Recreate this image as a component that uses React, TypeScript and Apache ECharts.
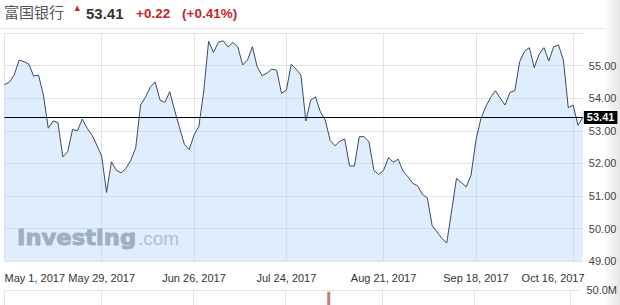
import React, { useEffect, useRef } from 'react';
import * as echarts from 'echarts';

// ---- data ----
const startDate = '2017-05-01';
const endDate = '2017-10-18';
const marketHolidays = ['2017-05-29', '2017-07-04', '2017-09-04'];

const prices = [
  54.42, 54.49, 54.71, 55.17, 55.12, 55.05, 54.68, 54.71, 54.10, 53.08,
  53.30, 53.25, 52.20, 52.36, 53.04, 53.00, 53.36, 53.08, 52.87, 52.56,
  52.22, 51.11, 52.05, 51.79, 51.71, 51.85, 52.10, 52.48, 53.79, 54.03,
  54.34, 54.50, 53.94, 53.87, 54.20, 53.63, 53.11, 52.59, 52.42, 52.87,
  53.14, 54.22, 55.75, 55.40, 55.72, 55.76, 55.57, 55.71, 55.58, 55.02,
  55.17, 55.58, 54.96, 54.69, 54.77, 54.89, 54.86, 54.15, 54.25, 55.04,
  54.89, 54.71, 53.30, 53.94, 54.04, 53.58, 53.33, 52.71, 52.54, 52.68,
  52.75, 51.92, 51.92, 52.82, 52.82, 52.66, 51.79, 51.66, 51.79, 52.18,
  52.03, 52.13, 51.76, 51.59, 51.39, 51.31, 51.05, 50.94, 50.09, 49.90,
  49.70, 49.56, 50.54, 51.54, 51.42, 51.28, 51.64, 52.71, 53.36, 53.73,
  54.02, 54.23, 54.00, 53.79, 54.18, 54.23, 55.12, 55.44, 55.55, 54.94,
  55.35, 55.55, 55.14, 55.58, 55.63, 55.17, 53.71, 53.79, 53.17, 53.41,
];

const tickDates = ['2017-05-01', '2017-05-29', '2017-06-26', '2017-07-24', '2017-08-21', '2017-09-18', '2017-10-16'];
const tickLabels = ['May 1, 2017', 'May 29, 2017', 'Jun 26, 2017', 'Jul 24, 2017', 'Aug 21, 2017', 'Sep 18, 2017', 'Oct 16, 2017'];

const lastPrice = 53.41;
const changeText = '+0.22';
const changePctText = '(+0.41%)';
const stockName = '富国银行';

const volumeDates = ['2017-08-04'];
const volumeValues = [46.6e6];
const volumeMax = 50e6;

const priceMin = 49;
const priceMax = 56;

// ---- helpers ----
function buildTradingDays(start: string, end: string, skip: string[]) {
  const out: string[] = [];
  const d = new Date(start + 'T00:00:00Z');
  const e = new Date(end + 'T00:00:00Z');
  while (d.getTime() <= e.getTime()) {
    const wd = d.getUTCDay();
    const s = d.toISOString().slice(0, 10);
    if (wd !== 0 && wd !== 6 && skip.indexOf(s) < 0) out.push(s);
    d.setUTCDate(d.getUTCDate() + 1);
  }
  return out;
}

const FONT = '"Liberation Sans", Arial, sans-serif';

export default function App() {
  const ref = useRef<HTMLDivElement>(null);

  useEffect(() => {
    document.body.style.margin = '0';
    const chart = echarts.init(ref.current!, null, { renderer: 'svg' });

    const categories = buildTradingDays(startDate, endDate, marketHolidays);
    const tickIndexToLabel: Record<number, string> = {};
    tickDates.forEach((td, k) => {
      const idx = categories.findIndex((c) => c >= td);
      if (idx >= 0) tickIndexToLabel[idx] = tickLabels[k];
    });
    const tickIdxs = Object.keys(tickIndexToLabel).map(Number);
    const lastTickIdx = Math.max(...tickIdxs);
    const isTick = (i: number) => tickIndexToLabel[i] !== undefined;

    const xData = categories.map((c, i) => {
      if (i === 0) return { value: c, textStyle: { align: 'left' } };
      if (i === lastTickIdx) return { value: c, textStyle: { align: 'center', padding: [0, 40, 0, 0] } };
      return c;
    });

    const volumeData = categories.map((c) => {
      const k = volumeDates.indexOf(c);
      return k >= 0 ? volumeValues[k] : null;
    });

    const gridColor = '#e3e3e3';

    const option: any = {
      animation: false,
      backgroundColor: '#fff',
      grid: [
        { left: 4.5, right: 37.16, top: 33, height: 228.2 },
        { left: 4.5, right: 37.16, top: 290, height: 100 },
      ],
      xAxis: [
        {
          type: 'category',
          gridIndex: 0,
          data: xData,
          boundaryGap: false,
          axisLine: { show: false },
          axisTick: { show: false },
          axisLabel: {
            interval: (i: number) => isTick(i),
            formatter: (_v: string, i: number) => tickIndexToLabel[i] ?? '',
            color: '#333',
            fontSize: 11,
            fontFamily: FONT,
            margin: 11,
          },
          splitLine: { show: true, interval: (i: number) => isTick(i), lineStyle: { color: gridColor, width: 1 } },
        },
        {
          type: 'category',
          gridIndex: 1,
          data: categories,
          boundaryGap: false,
          axisLine: { show: false },
          axisTick: { show: false },
          axisLabel: { show: false },
          splitLine: { show: true, interval: (i: number) => isTick(i), lineStyle: { color: gridColor, width: 1 } },
        },
      ],
      yAxis: [
        {
          type: 'value',
          gridIndex: 0,
          position: 'right',
          min: priceMin,
          max: priceMax,
          interval: 1,
          axisLine: { show: false },
          axisTick: { show: false },
          axisLabel: {
            margin: 6,
            color: '#444',
            fontSize: 11,
            fontFamily: FONT,
            formatter: (v: number) => (v >= priceMax ? '' : v.toFixed(2)),
          },
          splitLine: { lineStyle: { color: gridColor, width: 1 } },
        },
        {
          type: 'value',
          gridIndex: 1,
          position: 'right',
          min: 0,
          max: volumeMax,
          interval: volumeMax,
          axisLine: { show: false },
          axisTick: { show: false },
          axisLabel: {
            margin: 6,
            color: '#444',
            fontSize: 11,
            fontFamily: FONT,
            formatter: (v: number) => (v === volumeMax ? (v / 1e6).toFixed(1) + 'M' : ''),
          },
          splitLine: { lineStyle: { color: gridColor, width: 1 } },
        },
      ],
      series: [
        {
          type: 'line',
          xAxisIndex: 0,
          yAxisIndex: 0,
          data: prices,
          symbol: 'none',
          silent: true,
          lineStyle: { color: '#3d4964', width: 1 },
          areaStyle: { color: 'rgba(172,208,250,0.55)', origin: 'start' },
          markLine: {
            silent: true,
            symbol: 'none',
            lineStyle: { color: '#000', width: 1, type: 'solid' },
            label: {
              show: true,
              position: 'end',
              distance: 1,
              formatter: lastPrice.toFixed(2),
              color: '#fff',
              backgroundColor: '#000',
              fontWeight: 'bold',
              fontSize: 11,
              fontFamily: FONT,
              lineHeight: 11,
              padding: [1, 3, 1, 3],
            },
            data: [{ yAxis: lastPrice }],
          },
        },
        {
          type: 'bar',
          xAxisIndex: 1,
          yAxisIndex: 1,
          data: volumeData,
          barWidth: 3,
          silent: true,
          itemStyle: { color: '#c47c7e' },
        },
      ],
      graphic: [
        {
          type: 'line',
          shape: { x1: 0, y1: 28.5, x2: 604, y2: 28.5 },
          style: { stroke: '#e6e6e6', lineWidth: 1 },
        },
        {
          type: 'text',
          left: 4,
          top: 4,
          style: { text: stockName, font: '15px "Noto Sans CJK SC"', fill: '#555' },
        },
        {
          type: 'polygon',
          shape: { points: [[74.5, 11], [80, 11], [77.2, 5.5]] },
          style: { fill: '#d0262c' },
        },
        {
          type: 'text',
          x: 86,
          y: 13,
          style: { text: lastPrice.toFixed(2), font: 'bold 15px ' + FONT, fill: '#333', verticalAlign: 'middle' },
        },
        {
          type: 'text',
          x: 136,
          y: 13,
          style: { text: changeText, font: 'bold 13.5px ' + FONT, fill: '#cc2229', verticalAlign: 'middle' },
        },
        {
          type: 'text',
          x: 182,
          y: 13,
          style: { text: changePctText, font: 'bold 13.5px ' + FONT, fill: '#cc2229', verticalAlign: 'middle' },
        },
        {
          type: 'text',
          x: 17,
          y: 238,
          scaleX: 1.08,
          z: 100,
          style: {
            text: 'Investing',
            font: 'bold 21px "DejaVu Sans"',
            fill: '#9dafc5',
            stroke: '#9dafc5',
            lineWidth: 0.8,
            verticalAlign: 'middle',
          },
        },
        {
          type: 'text',
          x: 138,
          y: 238,
          z: 100,
          style: { text: '.com', font: '19px ' + FONT, fill: '#afbfd2', verticalAlign: 'middle' },
        },
        {
          type: 'rect',
          shape: { x: 604, y: 0, width: 16, height: 305 },
          z: 100,
          style: {
            fill: new echarts.graphic.LinearGradient(0, 0, 1, 0, [
              { offset: 0, color: 'rgba(0,0,0,0)' },
              { offset: 1, color: 'rgba(0,0,0,0.1)' },
            ]),
          },
        },
      ],
    };

    chart.setOption(option);
    return () => chart.dispose();
  }, []);

  return <div ref={ref} style={{ width: 620, height: 305 }} />;
}
